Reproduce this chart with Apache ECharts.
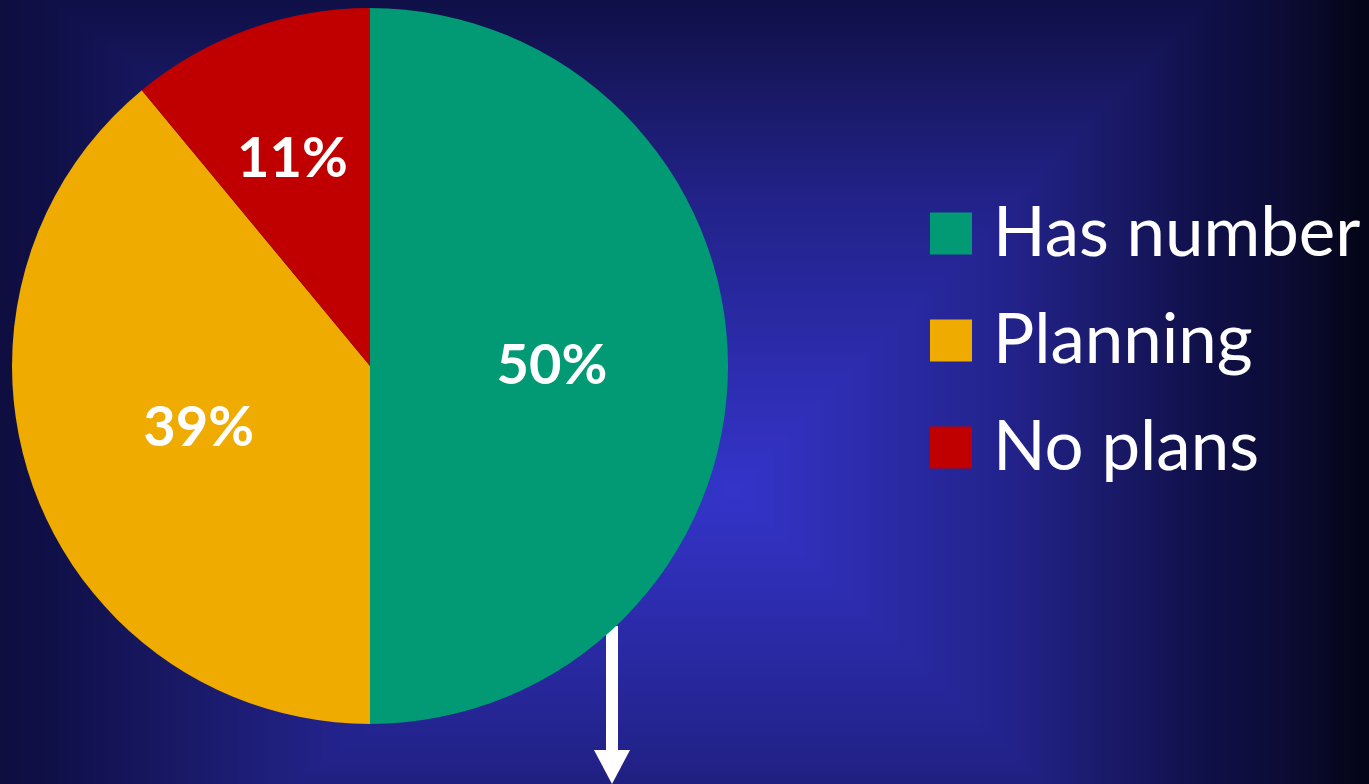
<!DOCTYPE html>
<html>
<head>
<meta charset="utf-8">
<script src="https://cdn.jsdelivr.net/npm/echarts@6/dist/echarts.min.js"></script>
<style>
  html, body { margin: 0; padding: 0; width: 100%; height: 100%; overflow: hidden; background: #0c0c36; }
  #bg, #chart { position: absolute; left: 0; top: 0; width: 1369px; height: 784px; }
</style>
</head>
<body>
<canvas id="bg" width="1369" height="784"></canvas>
<div id="chart"></div>
<script>
  // Survey shares, in percent
  const categories = ['Has number', 'Planning', 'No plans'];
  const shares = [50, 39, 11];
  const sliceColors = ['#029a74', '#efab00', '#c00000'];

  // Slide backdrop: rectangular glow, bright blue in the middle fading to navy/black
  (function paintBackdrop() {
    const cv = document.getElementById('bg');
    const ctx = cv.getContext('2d');
    const W = cv.width, H = cv.height;
    const cx = 735, cy = 490;
    const extLeft = 900, extRight = 620, extTop = 640, extBottom = 590;
    const stops = [
      [0.00, [0x34, 0x34, 0xca]],
      [0.25, [0x2a, 0x2a, 0xa6]],
      [0.45, [0x22, 0x22, 0x8a]],
      [0.60, [0x1a, 0x1a, 0x6a]],
      [0.75, [0x10, 0x10, 0x4a]],
      [0.88, [0x0c, 0x0c, 0x36]],
      [1.00, [0x05, 0x05, 0x1a]]
    ];
    const img = ctx.createImageData(W, H);
    const d = img.data;
    for (let y = 0; y < H; y++) {
      const dy = y < cy ? (cy - y) / extTop : (y - cy) / extBottom;
      for (let x = 0; x < W; x++) {
        const dx = x < cx ? (cx - x) / extLeft : (x - cx) / extRight;
        let t = Math.min(1, Math.max(dx, dy));
        let k = 1;
        while (k < stops.length - 1 && stops[k][0] < t) k++;
        const a = stops[k - 1], b = stops[k];
        const f = (t - a[0]) / (b[0] - a[0]);
        const i = (y * W + x) * 4;
        d[i]     = a[1][0] + (b[1][0] - a[1][0]) * f;
        d[i + 1] = a[1][1] + (b[1][1] - a[1][1]) * f;
        d[i + 2] = a[1][2] + (b[1][2] - a[1][2]) * f;
        d[i + 3] = 255;
      }
    }
    ctx.putImageData(img, 0, 0);
  })();

  const chart = echarts.init(document.getElementById('chart'));

  const pieData = categories.map((name, i) => {
    const item = { name: name, value: shares[i], itemStyle: { color: sliceColors[i] } };
    // the small slice carries its label nearer the rim
    if (name === 'No plans') item.label = { offset: [-16, -36] };
    return item;
  });

  chart.setOption({
    backgroundColor: 'transparent',
    animation: false,
    legend: {
      orient: 'vertical',
      left: 925,
      top: 194,
      icon: 'rect',
      itemWidth: 42,
      itemHeight: 42,
      itemGap: 38,
      selectedMode: false,
      data: categories,
      textStyle: {
        color: '#ffffff',
        fontFamily: 'Lato, "Open Sans", sans-serif',
        fontSize: 69,
        padding: [0, 0, 0, 16]
      }
    },
    series: [{
      type: 'pie',
      center: [370, 366],
      radius: [0, 358],
      startAngle: 90,
      clockwise: true,
      silent: true,
      label: {
        show: true,
        position: 'inside',
        formatter: '{c}%',
        color: '#ffffff',
        fontFamily: 'Lato, "Open Sans", sans-serif',
        fontWeight: 'bold',
        fontSize: 56
      },
      labelLine: { show: false },
      itemStyle: { borderWidth: 0 },
      data: pieData
    }],
    // downward pointer below the green slice
    graphic: [
      { type: 'rect', shape: { x: 606, y: 626, width: 12, height: 126 }, style: { fill: '#ffffff' } },
      { type: 'polygon', shape: { points: [[594, 750], [630, 750], [612, 784]] }, style: { fill: '#ffffff' } }
    ]
  });
</script>
</body>
</html>
